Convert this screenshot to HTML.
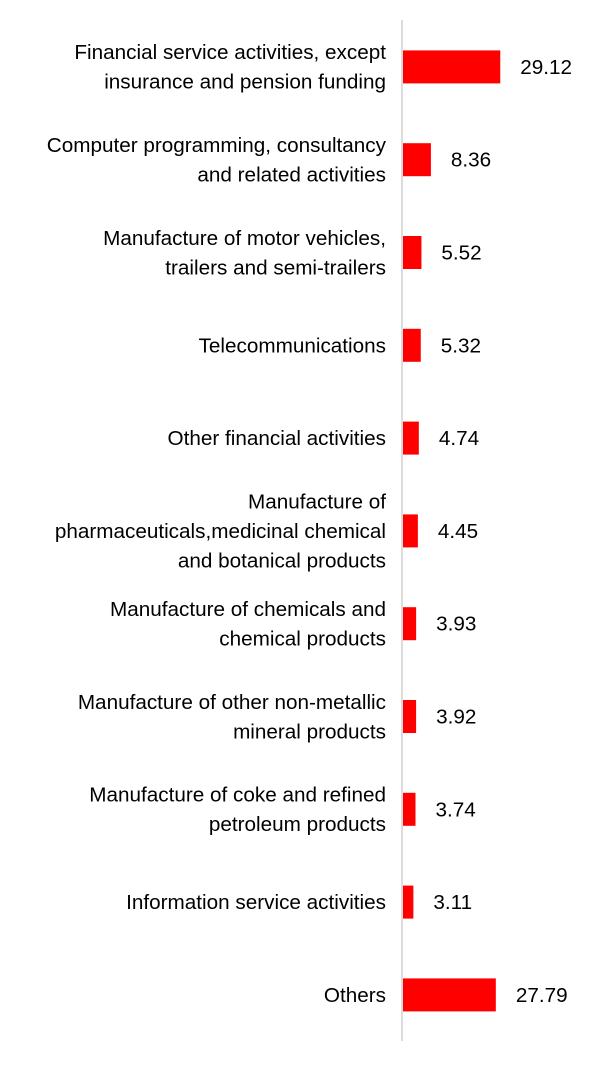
<!DOCTYPE html>
<html><head><meta charset="utf-8"><style>
body{margin:0;background:#fff;width:610px;height:1062px;overflow:hidden;font-family:"Liberation Sans",sans-serif}
svg text{font-family:"Liberation Sans",sans-serif;font-size:20.7px;fill:#000}
</style></head><body>
<svg id="chart" width="610" height="1062" xmlns="http://www.w3.org/2000/svg"></svg>
<script>
const categories = [
  ["Financial service activities, except","insurance and pension funding"],
  ["Computer programming, consultancy","and related activities"],
  ["Manufacture of motor vehicles,","trailers and semi-trailers"],
  ["Telecommunications"],
  ["Other financial activities"],
  ["Manufacture of","pharmaceuticals,medicinal chemical","and botanical products"],
  ["Manufacture of chemicals and","chemical products"],
  ["Manufacture of other non-metallic","mineral products"],
  ["Manufacture of coke and refined","petroleum products"],
  ["Information service activities"],
  ["Others"]
];
const values = [29.12, 8.36, 5.52, 5.32, 4.74, 4.45, 3.93, 3.92, 3.74, 3.11, 27.79];
const valueLabels = ["29.12","8.36","5.52","5.32","4.74","4.45","3.93","3.92","3.74","3.11","27.79"];

const svg = document.getElementById('chart');
const NS = 'http://www.w3.org/2000/svg';
const x0 = 403, pxPerUnit = 3.34;
const top0 = 20, band = 92.8;
const xScale = v => x0 + v * pxPerUnit;
const yCenter = i => top0 + band * (i + 0.5) + 0.5;

const axis = document.createElementNS(NS, 'line');
axis.setAttribute('x1', 402); axis.setAttribute('x2', 402);
axis.setAttribute('y1', 20); axis.setAttribute('y2', 1041);
axis.setAttribute('stroke', '#d0d0d0'); axis.setAttribute('stroke-width', '1.5');


svg.appendChild(axis);

categories.forEach((lines, i) => {
  const cy = yCenter(i);
  const bar = document.createElementNS(NS, 'rect');
  bar.setAttribute('x', x0);
  bar.setAttribute('y', cy - 16.5);
  bar.setAttribute('width', xScale(values[i]) - x0);
  bar.setAttribute('height', 33);
  bar.setAttribute('fill', '#ff0000');
  
  
  svg.appendChild(bar);

  const vt = document.createElementNS(NS, 'text');
  vt.setAttribute('x', xScale(values[i]) + 20);
  vt.setAttribute('y', cy + 7);
  vt.textContent = valueLabels[i];
  
  
  svg.appendChild(vt);

  const lh = 29.5;
  const startY = cy - (lines.length - 1) * lh / 2 + 7;
  const lt = document.createElementNS(NS, 'text');
  lt.setAttribute('text-anchor', 'end');
  
  
  lines.forEach((ln, j) => {
    const ts = document.createElementNS(NS, 'tspan');
    ts.setAttribute('x', 386);
    ts.setAttribute('y', startY + j * lh);
    ts.textContent = ln;
    lt.appendChild(ts);
  });
  svg.appendChild(lt);
});
</script>
</body></html>
